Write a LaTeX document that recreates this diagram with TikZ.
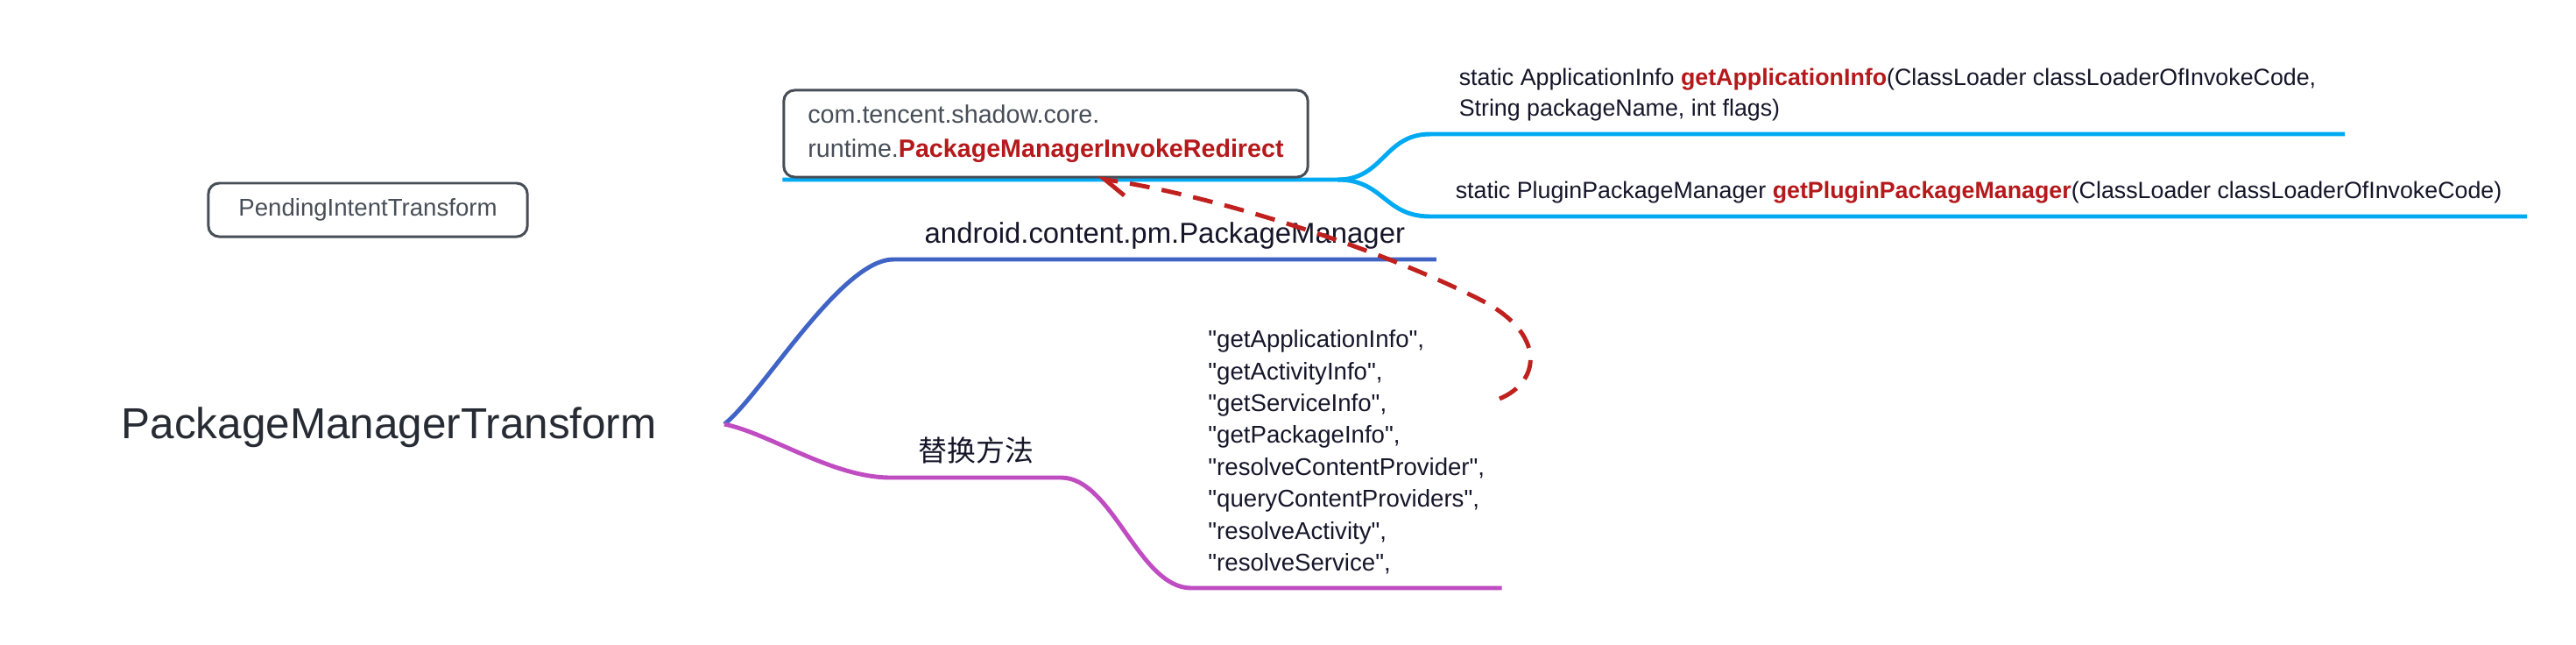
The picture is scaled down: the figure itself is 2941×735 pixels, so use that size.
\documentclass[tikz,border=0pt]{standalone}
\usepackage{fontspec}
\setmainfont{Liberation Sans}[Ligatures=TeXOff]
\newfontfamily\cjkfont{Noto Sans CJK SC}
\usepackage{xcolor}
\usetikzlibrary{arrows.meta, backgrounds}

\definecolor{boxgray}{HTML}{474E57}
\definecolor{inkdark}{HTML}{16162A}
\definecolor{rootink}{HTML}{272B33}
\definecolor{hotred}{HTML}{B5191B}
\definecolor{dashred}{HTML}{C0201E}
\definecolor{cyanline}{HTML}{00AAF2}
\definecolor{blueline}{HTML}{4064C6}
\definecolor{magline}{HTML}{C04CC2}

\newcommand{\hot}[1]{\textcolor{hotred}{\bfseries #1}}

\begin{document}
\begin{tikzpicture}[
    x=0.01cm, y=-0.01cm,
    framebox/.style={draw=boxgray, line width=0.85pt, rounded corners=3.5pt, fill=white, text=boxgray, align=left},
    topic/.style={anchor=south west, inner xsep=0pt, text=inkdark, font=\fontsize{9.35}{11}\selectfont},
    sigtext/.style={anchor=south west, inner xsep=0pt, inner ysep=4pt, align=left, text=inkdark, font=\fontsize{7.62}{9.96}\selectfont},
    cyanbranch/.style={line width=1.4pt, draw=cyanline},
    bluebranch/.style={line width=1.4pt, draw=blueline},
    magbranch/.style={line width=1.4pt, draw=magline},
    redirectarrow/.style={line width=1.4pt, draw=dashred, dash pattern=on 6.5pt off 4pt, -{Straight Barb[harpoon, length=7pt, width=8.5pt]}}
]
    \useasboundingbox (0,0) rectangle (2941,735);

    \node (pending) [framebox, align=center, minimum width=3.64cm, minimum height=0.61cm, font=\fontsize{7.85}{9}\selectfont] at (420,239.5) {PendingIntentTransform};
    \node (redir) [framebox, minimum width=5.98cm, minimum height=0.99cm, font=\fontsize{8.15}{11.1}\selectfont] at (1194,152.5) {com.tencent.shadow.core.\\runtime.\hot{PackageManagerInvokeRedirect}};
    \node (root) [anchor=base west, inner sep=0pt, text=rootink, font=\fontsize{14.06}{16}\selectfont] at (138,500) {PackageManagerTransform};

    \node (pm) [topic, inner ysep=3.1pt, minimum width=6.18cm] at (1020,296) {android.content.pm.PackageManager};
    \node (repl) [topic, inner ysep=4.2pt, minimum width=1.93cm, font=\cjkfont\fontsize{9.35}{11}\selectfont] at (1017,545) {替换方法};
    \node (methods) [sigtext, inner ysep=4.3pt, minimum width=3.53cm, font=\fontsize{7.85}{10.36}\selectfont] at (1360,671) {"getApplicationInfo",\\"getActivityInfo",\\"getServiceInfo",\\"getPackageInfo",\\"resolveContentProvider",\\"queryContentProviders",\\"resolveActivity",\\"resolveService",};

    \node (appinfo) [sigtext, minimum width=10.42cm] at (1633,153) {static ApplicationInfo \hot{getApplicationInfo}(ClassLoader classLoaderOfInvokeCode,\\String packageName, int flags)};
    \node (plugin) [sigtext, minimum width=12.50cm] at (1633,247) {static PluginPackageManager \hot{getPluginPackageManager}(ClassLoader classLoaderOfInvokeCode)};

    \coordinate (hub) at (827,484);
    \coordinate (fork) at (1527,205);
    \coordinate (loopstart) at (1712,455);

    \begin{scope}[on background layer]
        \fill[white] (0,0) rectangle (2941,735);
        \draw [bluebranch] (hub) .. controls (870,450) and (960,296) .. (pm.south west) -- (pm.south east);
        \draw [magbranch] (hub) .. controls (880,495) and (950,545) .. (repl.south west) -- (repl.south east) .. controls (1270,545) and (1300,671) .. (methods.south west) -- (methods.south east);
        \draw [cyanbranch] (redir.south west |- fork) -- (fork) .. controls (1580,205) and (1580,153) .. (appinfo.south west) -- (appinfo.south east);
        \draw [cyanbranch] (fork) .. controls (1580,205) and (1580,247) .. (plugin.south west) -- (plugin.south east);
    \end{scope}

    \draw [redirectarrow] (loopstart) .. controls (1760,435) and (1765,380) .. (1690,342) .. controls (1570,281) and (1380,222) .. (redir.-41);
\end{tikzpicture}
\end{document}
